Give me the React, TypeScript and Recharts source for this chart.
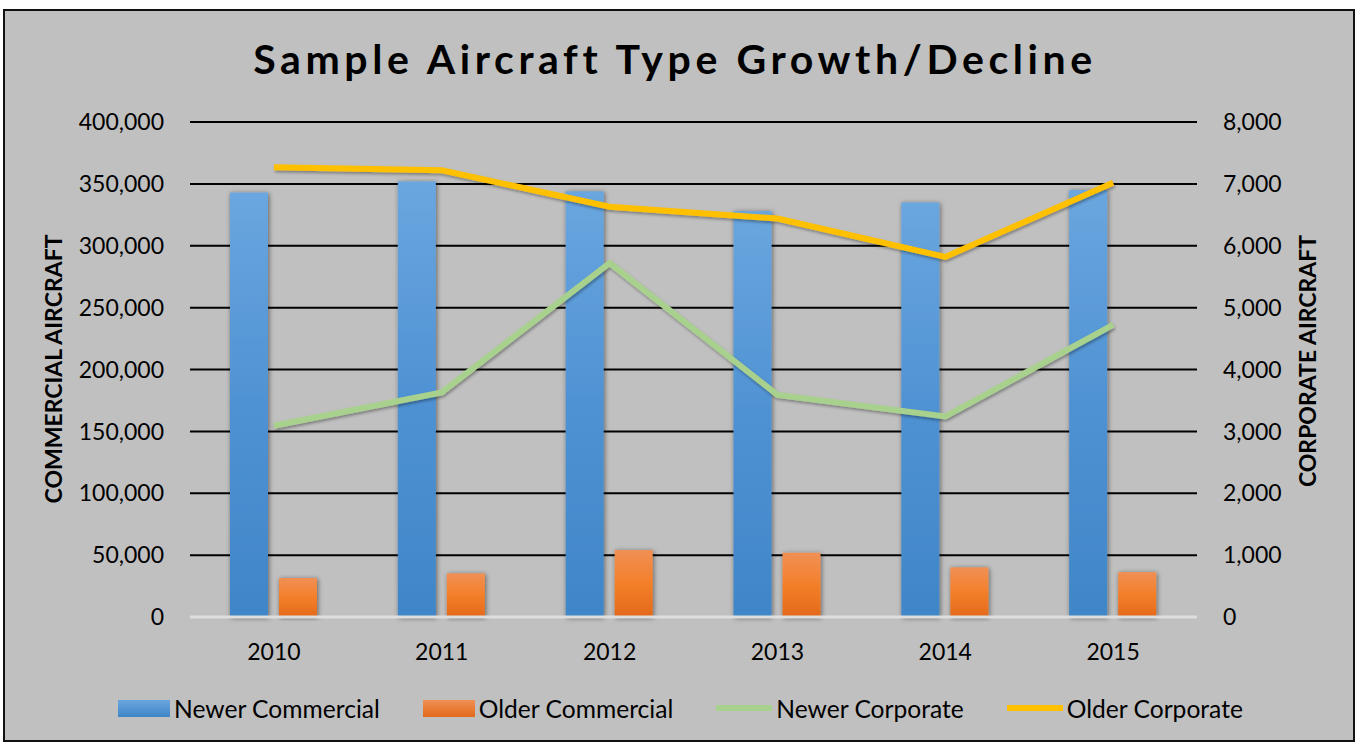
import React from 'react';
import { ComposedChart, Bar, Line, XAxis, YAxis, CartesianGrid } from 'recharts';

const years = ['2010', '2011', '2012', '2013', '2014', '2015'];
const newerCommercial = [343000, 352000, 344000, 328000, 335000, 345000];
const olderCommercial = [31500, 35300, 54100, 51900, 40100, 36300];
const newerCorporate = [3090, 3630, 5720, 3590, 3240, 4720];
const olderCorporate = [7270, 7220, 6630, 6440, 5820, 7020];

const commercialTicks = [0, 50000, 100000, 150000, 200000, 250000, 300000, 350000, 400000];
const corporateTicks = [0, 1000, 2000, 3000, 4000, 5000, 6000, 7000, 8000];

const data = years.map((year, i) => ({
    year,
    newerCommercial: newerCommercial[i],
    olderCommercial: olderCommercial[i],
    newerCorporate: newerCorporate[i],
    olderCorporate: olderCorporate[i],
}));

const FONT = 'Lato, "Open Sans", sans-serif';
const fmt = (v: number) => v.toLocaleString('en-US');

const legendItems = [
    { label: 'Newer Commercial', type: 'box', bg: 'linear-gradient(#6aa6df, #3f86c8)' },
    { label: 'Older Commercial', type: 'box', bg: 'linear-gradient(#f09055, #e2691a)' },
    { label: 'Newer Corporate', type: 'line', bg: '#a9d18e' },
    { label: 'Older Corporate', type: 'line', bg: '#ffc000' },
];

const shadowBar = (fill: string) => (props: any) => {
    const { x, y, width, height } = props;
    if (!height || height <= 0) return <g />;
    return <rect x={x} y={y} width={width} height={height} fill={fill} filter="url(#barShadow)" />;
};

export default function App() {
    return (
        <div style={{ position: 'absolute', left: 0, top: 0, width: 1358, height: 746, fontFamily: FONT }}>
            <div style={{
                position: 'absolute', left: 3, top: 9, width: 1352, height: 733, boxSizing: 'border-box',
                border: '2px solid #111', background: '#c0c0c0',
            }} />
            <div style={{
                position: 'absolute', left: 0, top: 38, width: 1350, textAlign: 'center',
                fontSize: 41, lineHeight: '41px', fontWeight: 700, letterSpacing: 4.6, color: '#000',
            }}>
                Sample Aircraft Type Growth/Decline
            </div>
            <div style={{
                position: 'absolute', left: 53, top: 369, transform: 'translate(-50%, -50%) rotate(-90deg)',
                fontSize: 23, fontWeight: 700, whiteSpace: 'nowrap', color: '#000',
            }}>
                COMMERCIAL AIRCRAFT
            </div>
            <div style={{
                position: 'absolute', left: 1307, top: 361, transform: 'translate(-50%, -50%) rotate(-90deg)',
                fontSize: 23, fontWeight: 700, whiteSpace: 'nowrap', color: '#000',
            }}>
                CORPORATE AIRCRAFT
            </div>
            <div style={{ position: 'absolute', left: 0, top: 0 }}>
                <ComposedChart
                    width={1358}
                    height={746}
                    data={data}
                    margin={{ top: 122, right: 61, bottom: 89, left: 90 }}
                    barGap={11}
                    barCategoryGap="24%"
                >
                    <defs>
                        <linearGradient id="gBlue" x1="0" y1="0" x2="0" y2="1">
                            <stop offset="0%" stopColor="#6aa6df" />
                            <stop offset="50%" stopColor="#4f92d3" />
                            <stop offset="100%" stopColor="#3f86c8" />
                        </linearGradient>
                        <linearGradient id="gOrange" x1="0" y1="0" x2="0" y2="1">
                            <stop offset="0%" stopColor="#f09055" />
                            <stop offset="50%" stopColor="#f47f2a" />
                            <stop offset="100%" stopColor="#e2691a" />
                        </linearGradient>
                        <filter id="barShadow" x="-30%" y="-10%" width="160%" height="120%">
                            <feDropShadow dx="1" dy="1" stdDeviation="2.5" floodColor="#000" floodOpacity="0.5" />
                        </filter>
                        <filter id="lineShadow" x="-5%" y="-20%" width="110%" height="140%">
                            <feDropShadow dx="1" dy="2" stdDeviation="1.5" floodColor="#000" floodOpacity="0.35" />
                        </filter>
                    </defs>
                    <CartesianGrid yAxisId="left" vertical={false} stroke="#000" strokeWidth={2} />
                    <XAxis
                        dataKey="year"
                        height={40}
                        tickLine={false}
                        axisLine={{ stroke: '#dedede', strokeWidth: 3 }}
                        tickMargin={21}
                        tick={{ fill: '#000', fontSize: 23, fontFamily: FONT }}
                    />
                    <YAxis
                        yAxisId="left"
                        width={100}
                        domain={[0, 400000]}
                        ticks={commercialTicks}
                        tickFormatter={fmt}
                        tickLine={false}
                        axisLine={false}
                        tickMargin={20}
                        tick={{ fill: '#000', fontSize: 23, fontFamily: FONT }}
                    />
                    <YAxis
                        yAxisId="right"
                        orientation="right"
                        width={100}
                        domain={[0, 8000]}
                        ticks={corporateTicks}
                        tickFormatter={fmt}
                        tickLine={false}
                        axisLine={false}
                        tickMargin={20}
                        tick={{ fill: '#000', fontSize: 23, fontFamily: FONT, textAnchor: 'start' }}
                    />
                    <Bar yAxisId="left" dataKey="newerCommercial" barSize={38} shape={shadowBar('url(#gBlue)')} isAnimationActive={false} />
                    <Bar yAxisId="left" dataKey="olderCommercial" barSize={38} shape={shadowBar('url(#gOrange)')} isAnimationActive={false} />
                    <Line yAxisId="right" dataKey="newerCorporate" stroke="#a9d18e" strokeWidth={6} dot={false} filter="url(#lineShadow)" isAnimationActive={false} />
                    <Line yAxisId="right" dataKey="olderCorporate" stroke="#ffc000" strokeWidth={6} dot={false} filter="url(#lineShadow)" isAnimationActive={false} />
                </ComposedChart>
            </div>
            <div style={{
                position: 'absolute', left: 118, top: 694, height: 28, display: 'flex', alignItems: 'center',
                gap: 43, fontSize: 24.6, color: '#000', whiteSpace: 'nowrap',
            }}>
                {legendItems.map((item) => (
                    <div key={item.label} style={{ display: 'flex', alignItems: 'center' }}>
                        <div style={{
                            width: item.type === 'box' ? 52 : 56,
                            height: item.type === 'box' ? 17 : 6,
                            background: item.bg,
                            marginRight: 4,
                        }} />
                        <span>{item.label}</span>
                    </div>
                ))}
            </div>
        </div>
    );
}
